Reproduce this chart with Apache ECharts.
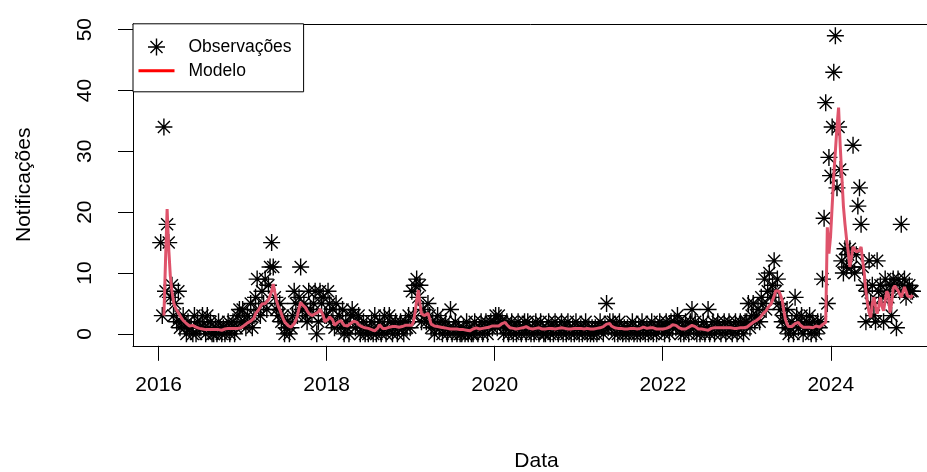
<!DOCTYPE html>
<html>
<head>
<meta charset="utf-8">
<script src="https://cdn.jsdelivr.net/npm/echarts@6/dist/echarts.min.js"></script>
<style>
  html, body { margin: 0; padding: 0; background: #fff; }
  #chart { width: 927px; height: 472px; }
</style>
</head>
<body>
<div id="chart"></div>
<script>
// Weekly notifications, one array per epidemiological year (weeks start on Sunday).
const startDate = '2016-01-10';

const obs2016 = [15,3,34,7,18,15,6,8,3,5, 2,7,1,2,3,1,0,2,1,1, 0,3,0,2,1,1,3,1,0,3, 1,2,0,0,1,0,2,1,0,1, 0,1,2,0,1,2,0,1,3,4, 2];
const obs2017 = [4,2,1,3,2,5,1,3,6,9, 4,3,7,5,9,4,8,11,15,11, 6,4,3,5,2,3,0,1,2,0, 1,3,7,5,3,6,11,4,5,3, 2,7,4,3,5,7,0,2,7,5, 6,3];
const obs2018 = [3,7,5,2,4,1,5,2,3,1, 4,0,2,1,0,3,4,3,1,2, 3,0,1,2,0,1,0,1,2,0, 3,0,1,2,0,1,3,0,1,3, 2,0,1,2,0,1,2,1,0,2, 1,3];
const obs2019 = [1,7,3,8,9,6,8,2,4,3, 2,5,3,1,2,0,1,3,1,2, 0,1,2,0,1,4,0,1,2,0, 1,0,0,1,0,2,0,1,0,0, 2,1,0,1,2,0,1,2,0,1, 2,1];
const obs2020 = [2,3,1,3,2,2,0,1,2,0, 1,2,0,1,0,2,1,0,1,2, 0,2,1,0,1,0,2,1,0,2, 1,0,0,1,2,0,1,0,2,1, 0,1,2,0,1,0,2,1,0,1, 0,2,1];
const obs2021 = [0,1,0,1,2,0,1,0,1,0, 1,0,1,2,1,0,1,5,1,2, 1,2,0,1,0,2,1,0,1,0, 1,0,1,2,0,1,0,1,0,2, 1,0,1,0,1,2,0,1,0,1, 2,1];
const obs2022 = [1,0,2,1,0,2,1,2,1,3, 2,0,1,0,2,1,0,2,4,1, 2,0,1,0,1,2,0,1,4,0, 1,2,0,1,2,1,0,1,2,0, 1,2,1,0,1,2,0,1,2,1, 0,2];
const obs2023 = [2,5,1,3,5,2,3,4,2,6, 5,9,4,7,10,6,8,12,7,9, 5,4,2,3,1,4,0,1,2,0, 6,3,1,2,3,0,1,2,1,3, 0,2,1,0,2,1,2,9,19,38, 5,29];
const obs2024 = [26,34,43,49,24,34,27,12,10,14, 11,13,14,11,31,10,13,21,24,18, 11,8,2,7,12,5,8,3,2,12, 7,8,6,2,9,7,6,8,3,9, 8,1,9,7,18,8,9,6,7,8, 7,7];

// Fitted model, same weeks (no fitted value for the first two weeks).
const fit2016 = [null,null,3,12,20.5,14,9.5,7,5.2,4.4, 3.9,3.5,3.0,2.6,2.2,2.0,1.7,1.5,1.3,1.2, 1.4,1.3,1.1,1,0.9,0.9,0.8,0.8,0.7,0.7, 0.7,0.8,0.7,0.7,0.7,0.8,0.7,0.7,0.6,0.7, 0.8,0.8,0.9,0.9,0.9,0.9,0.9,0.9,0.9,0.9, 1.0];
const fit2017 = [1.2,1.4,1.6,1.8,2.0,2.1,2.3,2.6,3.3,3.6, 4.0,4.3,4.9,4.6,5.0,5.2,5.6,6.2,7.0,8.2, 6.8,5.5,4.6,4.0,3.3,2.6,2.0,1.7,1.4,1.2, 1.1,1.3,1.7,2.2,3.0,4.2,5.2,4.8,4.9,4.3, 3.8,3.4,3.2,3.0,3.0,3.3,3.5,3.6,4.1,4.0, 3.0,2.0];
const fit2018 = [2.2,2.4,2.8,3.0,2.2,1.4,1.6,1.9,2.1,2.2, 1.8,1.4,1.2,1.3,1.5,1.7,1.9,2.1,2.2,1.9, 1.5,1.3,1.2,1.1,1.0,0.9,0.9,0.8,0.7,0.6, 0.5,0.5,1.0,1.5,1.2,0.9,0.8,0.9,1.0,1.1, 1.1,1.2,1.2,1.2,1.2,1.1,1.1,1.2,1.3,1.4, 1.4,1.4];
const fit2019 = [1.4,1.4,2.0,3.5,5.5,7.2,5.0,3.3,3.3,3.0, 3.2,3.4,3.2,1.6,1.4,1.3,1.2,1.2,1.1,1.1, 1.0,1.0,0.9,0.9,0.8,0.8,0.8,0.8,0.8,0.8, 0.8,0.7,0.7,0.7,0.6,0.6,0.6,0.5,0.5,0.8, 1.1,1.0,0.9,0.8,0.8,0.9,0.9,1.0,1.1,1.1, 1.2,1.3];
const fit2020 = [1.3,1.3,1.2,1.3,1.5,1.7,1.9,1.9,1.5,1.2, 1.0,0.9,0.9,0.9,0.8,0.9,0.9,0.9,1.0,1.1, 1.2,1.1,0.9,0.8,0.8,0.8,0.9,1.0,1.0,0.9, 0.8,0.8,0.8,0.9,0.9,0.9,0.9,0.8,0.8,0.8, 0.9,0.9,1.0,0.9,0.9,0.8,0.8,0.8,0.8,0.9, 0.9,0.9,0.9];
const fit2021 = [0.9,0.9,0.8,0.8,0.8,0.9,0.9,0.8,0.8,0.8, 0.8,0.9,0.9,1.0,1.1,1.2,1.4,1.6,1.8,1.7, 1.3,1.1,1.0,0.9,0.9,0.9,0.9,0.8,0.8,0.8, 0.8,0.9,0.9,1.0,0.9,0.9,0.8,0.8,0.9,1.0, 1.1,1.0,0.9,0.9,1.0,1.1,1.0,0.9,0.8,0.8, 0.8,0.8];
const fit2022 = [0.8,0.8,0.9,1.0,1.1,1.3,1.5,1.5,1.4,1.2, 1.0,0.9,0.8,0.8,0.8,0.9,1.1,1.3,1.4,1.4, 1.2,1.0,0.8,0.8,0.8,0.8,0.7,0.6,0.6,0.7, 0.9,1.0,1.0,1.1,1.0,1.0,1.0,1.0,1.0,1.1, 1.0,1.0,1.0,0.9,0.9,0.9,0.9,1.0,1.0,0.9, 1.0,1.1];
const fit2023 = [1.1,1.2,1.5,1.7,1.9,2.0,2.2,2.4,2.6,2.9, 3.3,3.6,3.8,4.3,4.6,4.9,5.2,6.2,7.1,7.4, 7.0,6.3,5.5,3.8,2.4,1.6,1.2,1.1,1.2,1.4, 1.7,2.0,1.9,1.5,1.2,1.1,1.0,1.1,1.2,1.1, 1.1,1.0,1.1,1.3,1.2,1.1,1.2,1.5,1.7,1.9, 17.5,13.2];
const fit2024 = [16,21,26,30,34,37.2,31,26,21,18, 15.5,13.5,11,12.5,14.3,14,13.5,13.7,13.7,14.3, 12,9.9,7,5,3.5,2.7,5,6,4.5,3.3, 4.5,6,4.5,3.8,5.5,7,6.5,3.5,5,7.5, 7.9,7.5,7.1,6.5,6,6.8,7.7,7,6.2,6, 6,6.4];

const xTicks = [2016, 2018, 2020, 2022, 2024];
const yTicks = [0, 10, 20, 30, 40, 50];

const observed = [].concat(obs2016, obs2017, obs2018, obs2019, obs2020, obs2021, obs2022, obs2023, obs2024);
const fitted = [].concat(fit2016, fit2017, fit2018, fit2019, fit2020, fit2021, fit2022, fit2023, fit2024);

// Week dates as decimal years, so that ticks sit on 1 January.
const DAY = 86400000;
const t0 = Date.parse(startDate + 'T00:00:00Z');
function decimalYear(ms) {
  const y = new Date(ms).getUTCFullYear();
  const a = Date.UTC(y, 0, 1), b = Date.UTC(y + 1, 0, 1);
  return y + (ms - a) / (b - a);
}
const weeks = observed.map((_, i) => decimalYear(t0 + i * 7 * DAY));

// Eight-armed asterisk (a plus and a cross of equal arm length).
const ASTERISK = 'path://M0 50L100 50M50 0L50 100M14.64 14.64L85.36 85.36M14.64 85.36L85.36 14.64';
const FONT = '"Liberation Sans", Arial, Helvetica, sans-serif';
const X_RANGE = { min: 2015.695, max: 2025.3 };
const BOX_LINE = { show: true, onZero: false, lineStyle: { color: '#000', width: 1 } };

const chart = echarts.init(document.getElementById('chart'), null, { renderer: 'canvas' });
chart.setOption({
  animation: false,
  backgroundColor: '#ffffff',
  textStyle: { fontFamily: FONT },
  // The plot frame runs past the right edge of the canvas, so only three sides show.
  grid: {
    left: 133, top: 23.8, right: -13, height: 322,
    outerBoundsMode: 'none', containLabel: false, show: false
  },
  legend: {
    orient: 'vertical',
    left: 133, top: 23.8,
    padding: [14, 12, 12, 4],
    itemWidth: 36, itemHeight: 17, itemGap: 5.6,
    backgroundColor: '#fff',
    borderColor: '#000', borderWidth: 1, borderRadius: 0,
    textStyle: { fontSize: 17.5, color: '#000', fontFamily: FONT, padding: [0, 0, 0, 9], lineHeight: 17 },
    selectedMode: false,
    data: [
      { name: 'Observações', icon: ASTERISK, itemStyle: { color: 'rgba(0,0,0,0)', borderColor: '#000', borderWidth: 1.4 } },
      { name: 'Modelo', itemStyle: { opacity: 0 }, lineStyle: { color: '#ff0000', width: 3, opacity: 1 } }
    ]
  },
  xAxis: [
    {
      type: 'value', position: 'bottom', ...X_RANGE,
      name: 'Data', nameLocation: 'middle', nameGap: 105,
      nameTextStyle: { fontSize: 21, color: '#000', fontFamily: FONT },
      axisLine: BOX_LINE,
      splitLine: { show: false },
      axisTick: { show: true, length: 15, customValues: xTicks, lineStyle: { color: '#000', width: 1 } },
      axisLabel: {
        customValues: xTicks, fontSize: 21, color: '#000', margin: 29, fontFamily: FONT,
        formatter: v => String(Math.round(v))
      }
    },
    {
      type: 'value', position: 'top', ...X_RANGE,
      axisLine: BOX_LINE,
      axisTick: { show: false }, axisLabel: { show: false }, splitLine: { show: false }
    }
  ],
  yAxis: {
    type: 'value', position: 'left', min: -1.96, max: 50.96,
    name: 'Notificações', nameLocation: 'middle', nameGap: 98,
    nameTextStyle: { fontSize: 21, color: '#000', fontFamily: FONT },
    axisLine: BOX_LINE,
    splitLine: { show: false },
    axisTick: { show: true, length: 15, customValues: yTicks, lineStyle: { color: '#000', width: 1 } },
    axisLabel: { customValues: yTicks, rotate: 90, fontSize: 21, color: '#000', margin: 37, fontFamily: FONT }
  },
  series: [
    {
      name: 'Observações', type: 'scatter', xAxisIndex: 0,
      symbol: ASTERISK, symbolSize: 17, symbolKeepAspect: true,
      itemStyle: { color: 'rgba(0,0,0,0)', borderColor: '#000', borderWidth: 1.4, opacity: 1 },
      data: observed.map((v, i) => [weeks[i], v]),
      z: 2
    },
    {
      name: 'Modelo', type: 'line', xAxisIndex: 0,
      showSymbol: false, symbol: 'none',
      lineStyle: { color: '#DF536B', width: 3 },
      itemStyle: { color: '#DF536B' },
      data: fitted.map((v, i) => [weeks[i], v]),
      connectNulls: false,
      z: 3
    }
  ]
});
</script>
</body>
</html>
